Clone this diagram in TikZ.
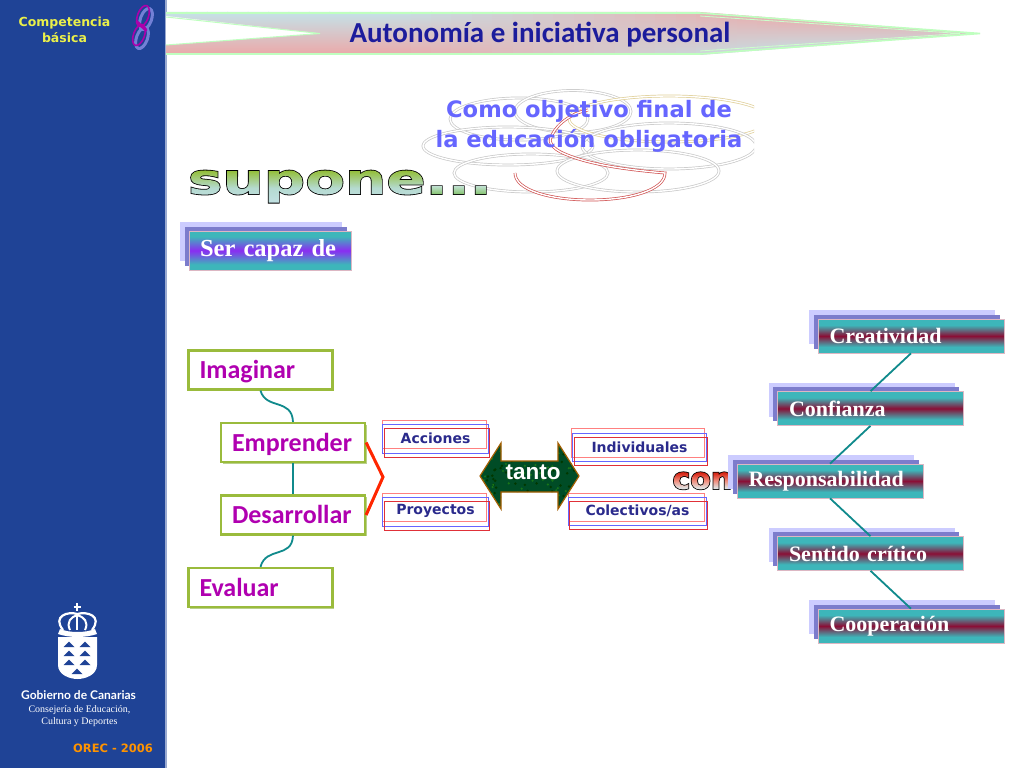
\documentclass[tikz,border=0pt]{standalone}
\usepackage{fontspec}
\usetikzlibrary{shadows,shadings}
\setmainfont{Liberation Serif}
\newfontfamily\vfont{DejaVu Sans}[BoldFont={DejaVu Sans Bold}]
\newfontfamily\tfont{DejaVu Sans Bold}
\newfontfamily\supfont{DejaVu Sans Bold}[FakeStretch=1.38]
\newfontfamily\confont{DejaVu Sans Bold}[FakeStretch=1.0]
\newfontfamily\cfont{Carlito}
\newfontfamily\afont{Liberation Sans}
\newfontfamily\gfont{Lato}
\newcommand{\fsz}[1]{\fontsize{#1}{#1}\selectfont}
\definecolor{side}{HTML}{1F4396}
\definecolor{tealb}{HTML}{3DB6BA}
\definecolor{crim}{HTML}{8A0F36}
\definecolor{viol}{HTML}{8A2CF2}
\definecolor{lav}{HTML}{CCCCFF}
\definecolor{lavd}{HTML}{7C7CCC}
\definecolor{linkt}{HTML}{108A8C}
\definecolor{gedge}{HTML}{9ABB3C}
\definecolor{gshad}{HTML}{B9D08A}
\definecolor{magt}{HTML}{B000B0}
\definecolor{navyt}{HTML}{2A2A8C}
\definecolor{titlet}{HTML}{1C1C9C}
\definecolor{ringg}{HTML}{C8C8C8}
\definecolor{ringy}{HTML}{E0CF98}
\definecolor{ringr}{HTML}{D05050}
\definecolor{bA}{HTML}{C4E2E8}
\definecolor{bB}{HTML}{ECA8A8}
\definecolor{compy}{HTML}{EAF04A}
\definecolor{supA}{HTML}{C2E1E3}
\definecolor{supB}{HTML}{B5DAD0}
\definecolor{supC}{HTML}{93BE38}
\definecolor{dotA}{HTML}{86C470}
\definecolor{dotB}{HTML}{C0E0D0}
\definecolor{conA}{HTML}{E0E0E0}
\definecolor{conB}{HTML}{F09080}
\definecolor{conC}{HTML}{D82818}
\definecolor{framered}{HTML}{E03038}
\pgfdeclareverticalshading{tealband}{100bp}{color(0bp)=(tealb);color(34bp)=(tealb);color(50bp)=(crim);color(66bp)=(tealb);color(100bp)=(tealb)}
\pgfdeclareverticalshading{violband}{100bp}{color(0bp)=(tealb);color(32bp)=(tealb);color(50bp)=(viol);color(68bp)=(tealb);color(100bp)=(tealb)}
\pgfdeclareverticalshading{supgrad}{100bp}{color(0bp)=(supA);color(25bp)=(supA);color(48bp)=(supB);color(75bp)=(supC);color(100bp)=(supC)}
\pgfdeclareverticalshading{dotgrad}{100bp}{color(0bp)=(dotA);color(25bp)=(dotA);color(75bp)=(dotB);color(100bp)=(dotB)}
\pgfdeclareverticalshading{congrad}{100bp}{color(0bp)=(conA);color(30bp)=(conA);color(50bp)=(conB);color(72bp)=(conC);color(100bp)=(conC)}
\newsavebox{\gtbox}
\newdimen\gtw \newdimen\gth \newdimen\gtd
% outlined text with a vertical gradient: stroke + clip render mode, then a shading
\newcommand{\gradtext}[3]{%
  \sbox{\gtbox}{#1}\gtw=\wd\gtbox \gth=\ht\gtbox \gtd=\dp\gtbox
  \special{pdf:code q #3 5 Tr}\usebox{\gtbox}\special{pdf:code 0 Tr}%
  \kern-\gtw
  \begin{pgfpicture}\pgfsetbaseline{0pt}%
    \pgfpathrectangle{\pgfpoint{0pt}{-\gtd}}{\pgfpoint{\gtw}{\dimexpr\gth+\gtd\relax}}%
    \pgfshadepath{#2}{0}\pgfusepath{discard}%
  \end{pgfpicture}%
  \special{pdf:code Q}}
\newcommand{\gbl}[1]{\makebox[122pt][l]{\raisebox{-8.5pt}[0pt][0pt]{#1}}}
\tikzset{
  layered/.style={general shadow={shadow xshift=-9pt,shadow yshift=9pt,fill=lav,draw=none},
    general shadow={shadow xshift=-4.5pt,shadow yshift=4.5pt,fill=lavd,draw=none}},
  tealbox/.style={layered,draw=crim!30!white,line width=.6pt,shading=tealband,shade,minimum width=186pt,minimum height=34pt,inner sep=0pt,
    text=white,font=\bfseries\fsz{22},text width=163pt,align=left},
  violbox/.style={layered,draw=crim!30!white,line width=.6pt,shading=violband,shade,minimum width=162pt,minimum height=39pt,inner sep=0pt,
    text=white,font=\bfseries\fsz{24.5},text width=140pt,align=left},
  greenbox/.style={draw=gedge,line width=2.2pt,fill=white,general shadow={shadow xshift=1.5pt,shadow yshift=-1.5pt,fill=gshad,draw=none},
    minimum width=144pt,minimum height=39pt,inner sep=0pt,text=magt,font=\cfont\bfseries\fsz{26},align=left},
  link/.style={draw=linkt,line width=1.8pt},
  framep/.style={draw=red!50!white,line width=1pt},
  frameb/.style={draw=blue!60!white,line width=1pt},
  framer/.style={draw=framered,line width=1pt,inner sep=0pt,fill=none},
  framet/.style={text=navyt,font=\vfont\bfseries\fsz{14},inner sep=0pt},
  ring/.style={draw=ringg,line width=.7pt,double=white,double distance=1.4pt},
}
\begin{document}
\begin{tikzpicture}[x=1pt,y=-1pt]
\useasboundingbox (0,0) rectangle (1024,768);
\fill[white] (0,0) rectangle (1024,768);
% sidebar
\fill[side] (0,0) rectangle (165,768);
\fill[side!45!white] (165,0) rectangle (166.5,768);
\node[text=compy,font=\vfont\bfseries\fsz{12.5},align=center,inner sep=0pt] (comp) at (64.5,30) {Competencia\\[2pt]básica};
% S emblem
\begin{scope}[shift={(3,3)}]
\draw[draw=blue!35!side!60!white,line width=3pt,rotate around={-20:(143,16)}] (143,16) ellipse [x radius=5.5,y radius=11];
\draw[draw=blue!35!side!60!white,line width=3pt,rotate around={-20:(139,35)}] (139,35) ellipse [x radius=5.5,y radius=11];
\end{scope}
\draw[draw=magt!90!violet,line width=1.6pt,rotate around={-20:(143,16)}] (143,16) ellipse [x radius=5.5,y radius=11];
\draw[draw=magt!90!violet,line width=1.6pt,rotate around={-20:(139,35)}] (139,35) ellipse [x radius=5.5,y radius=11];
\draw[draw=magt!90!violet,line width=3pt,line cap=round] (137,22) -- (146,30);
% banner
\begin{scope}
\clip (166,12) -- (700,12) -- (980,33.5) -- (700,55) -- (166,55) -- cycle;
\foreach \i in {0,...,40}{
  \pgfmathsetmacro{\pp}{min(100,max(0,(\i-10)*100/20))}
  \colorlet{ctop}{bB!\pp!bA}
  \colorlet{cbot}{bA!\pp!bB}
  \shade[top color=ctop,bottom color=cbot] ({166+\i*20.4},12) rectangle ({166+(\i+1)*20.4+1},55);
}
\fill[white] (166,16) -- (320,33.5) -- (166,45) -- cycle;
\end{scope}
\draw[draw=green!25!white,line width=1.6pt] (166,13) -- (700,13) -- (980,33.5) -- (700,54) -- (166,54);
\draw[draw=green!25!white,line width=1pt] (166,17) -- (320,33.5) -- (166,45);
\draw[draw=green!20!white,line width=.8pt] (700,16) -- (960,33.5) -- (700,51);
\node[text=titlet,font=\cfont\bfseries\fsz{29},inner sep=0pt] (title) at (540,35) {Autonomía e iniciativa personal};
% rings
\begin{scope}
\clip (415,80) rectangle (754,205);
\path[ring] (519,119) ellipse [x radius=69,y radius=21];
\path[ring] (573,111.5) ellipse [x radius=58,y radius=21];
\path[ring,draw=ringy] (669,119) ellipse [x radius=100,y radius=23];
\path[ring] (508,146) ellipse [x radius=85,y radius=19];
\path[ring] (669,146) ellipse [x radius=87,y radius=23];
\path[ring] (531,173) ellipse [x radius=77,y radius=19];
\path[ring] (638,171) ellipse [x radius=81,y radius=21];
\path[ring,draw=ringr] (515,173) .. controls (515,190) and (550,200) .. (590,200) .. controls (630,200) and (665,190) .. (665,173) .. controls (630,170) and (590,165) .. (565,154) .. controls (550,148) and (548,140) .. (552,135) .. controls (558,122) and (575,112) .. (588,110);
\end{scope}
\node[text=blue!60!white,font=\tfont\fsz{22.6},align=center,inner sep=0pt] (goal) at (589,126.5) {Como objetivo final de\\[6pt]la educación obligatoria};
% supone
\node[inner sep=0pt,outer sep=0pt,anchor=base west] (supone) at (188,194) {\gradtext{\supfont\fsz{42}supone}{supgrad}{0.1 0.25 0.15 RG 1.6 w}\gradtext{\supfont\fsz{42}...}{dotgrad}{0.1 0.25 0.15 RG 1.6 w}};
% ser capaz
\node[violbox] (ser) at (270,250.5) {Ser capaz de};
% green boxes
\node[greenbox] (ima) at (260.5,370) {\gbl{Imaginar}};
\node[greenbox] (emp) at (293,442.5) {\gbl{Emprender}};
\node[greenbox] (des) at (293,515) {\gbl{Desarrollar}};
\node[greenbox] (eva) at (260.5,587.5) {\gbl{Evaluar}};
\draw[link] (ima.south) .. controls (266,410) and (292,398) .. (emp.north);
\draw[link] (emp.south) -- (des.north);
\draw[link] (des.south) .. controls (292,559) and (266,546) .. (eva.north);
\coordinate (join) at (383,477);
\draw[draw=red!70!orange,line width=3pt] (emp.east) -- (join) -- (des.east);
% frames
\draw[framep] (382,420) rectangle (486,448);
\draw[frameb] (382,424) rectangle (488,453);
\node[framer,draw,minimum width=105pt,minimum height=29pt] (acc) at (436.5,442.5) {};
\node[framet] (acct) at (435.5,438) {Acciones};
\draw[framep] (382,493) rectangle (486,521);
\draw[frameb] (382,497) rectangle (488,526);
\node[framer,draw,minimum width=105pt,minimum height=29pt] (pro) at (436.5,515.5) {};
\node[framet] (prot) at (435.5,511) {Proyectos};
\draw[framep] (571,428) rectangle (704,457);
\draw[frameb] (572,433) rectangle (706,461);
\node[framer,draw,minimum width=133pt,minimum height=28pt] (ind) at (640.5,451) {};
\node[framet] (indt) at (639.5,447) {Individuales};
\draw[framep] (568,493) rectangle (704,521);
\draw[frameb] (568.5,497) rectangle (706,525);
\node[framer,draw,minimum width=138pt,minimum height=28pt] (col) at (638,515) {};
\node[framet] (colt) at (637.5,511) {Colectivos/as};
% tanto arrow
\begin{scope}
\clip (480,476) -- (501,443) -- (501,461) -- (558,461) -- (558,443) -- (579,476) -- (558,509) -- (558,492) -- (501,492) -- (501,509) -- cycle;
\fill[green!35!black!85!blue] (478,440) rectangle (581,512);
\pgfmathsetseed{7}
\foreach \i in {1,...,160}{
  \pgfmathsetmacro{\xx}{480+rnd*100}
  \pgfmathsetmacro{\yy}{442+rnd*68}
  \pgfmathsetmacro{\mm}{rnd>0.5?1:0}
  \ifdim\mm pt>0.5pt \fill[green!40!black!90!white] (\xx,\yy) circle (1.2); \else \fill[green!22!black] (\xx,\yy) circle (1.4); \fi
}
\end{scope}
\draw[draw=orange!60!black!90!yellow,line width=1.2pt,line join=miter] (480,476) -- (501,443) -- (501,461) -- (558,461) -- (558,443) -- (579,476) -- (558,509) -- (558,492) -- (501,492) -- (501,509) -- cycle;
\node[text=white,font=\afont\bfseries\fsz{22.5},inner sep=0pt] (tanto) at (533,472) {tanto};
% con
\node[inner sep=0pt,outer sep=0pt,anchor=base west] (con) at (672.5,489) {\gradtext{\confont\fsz{30}con}{congrad}{0.25 0.08 0.08 RG 1.6 w}};
% right boxes
\node[tealbox] (cre) at (911,336) {Creatividad};
\node[tealbox] (conf) at (870.5,408.5) {Confianza};
\node[tealbox] (res) at (830,481) {Responsabilidad};
\node[tealbox] (sen) at (870.5,553.5) {Sentido crítico};
\node[tealbox] (coo) at (911,626) {Cooperación};
\draw[link] (cre.south) -- (conf.north);
\draw[link] (conf.south) -- (res.north);
\draw[link] (res.south) -- (sen.north);
\draw[link] (sen.south) -- (coo.north);
% logo
\draw[white,line width=2pt] (77.3,603) -- (77.3,611) (73.5,607) -- (81,607);
\draw[white,line width=2.2pt] (63,630) .. controls (52,616) and (68,611) .. (77.3,614) .. controls (87,611) and (103,616) .. (92,630);
\draw[white,line width=2pt] (70,630) .. controls (66,622) and (71,617) .. (77.3,615) .. controls (84,617) and (89,622) .. (85,630);
\draw[white,line width=2pt] (77.3,614) -- (77.3,630);
\fill[white] (60,629) .. controls (70,633) and (85,633) .. (95,629) -- (97,634) .. controls (85,638) and (70,638) .. (58,634) -- cycle;
\fill[white] (58,637) -- (97,637) -- (97,665) .. controls (97,675) and (85,679) .. (77.5,679) .. controls (70,679) and (58,675) .. (58,665) -- cycle;
\foreach \xc/\yc in {69/647,85/647,69/656,85/656,69/665,85/665,77/674}{
  \fill[side] (\xc-5.5,\yc) -- (\xc,\yc-5.5) -- (\xc+5.5,\yc) -- cycle;
}
\node[text=white,font=\gfont\bfseries\fsz{12},inner sep=0pt] (gob) at (78.5,695) {Gobierno de Canarias};
\node[text=white,font=\fsz{10},align=center,inner sep=0pt] (cons) at (79.5,716) {Consejería de Educación,\\[2.5pt]Cultura y Deportes};
\node[text=orange!85!yellow,font=\vfont\bfseries\fsz{11.5},inner sep=0pt] (orec) at (113,748) {OREC - 2006};
\end{tikzpicture}
\end{document}
